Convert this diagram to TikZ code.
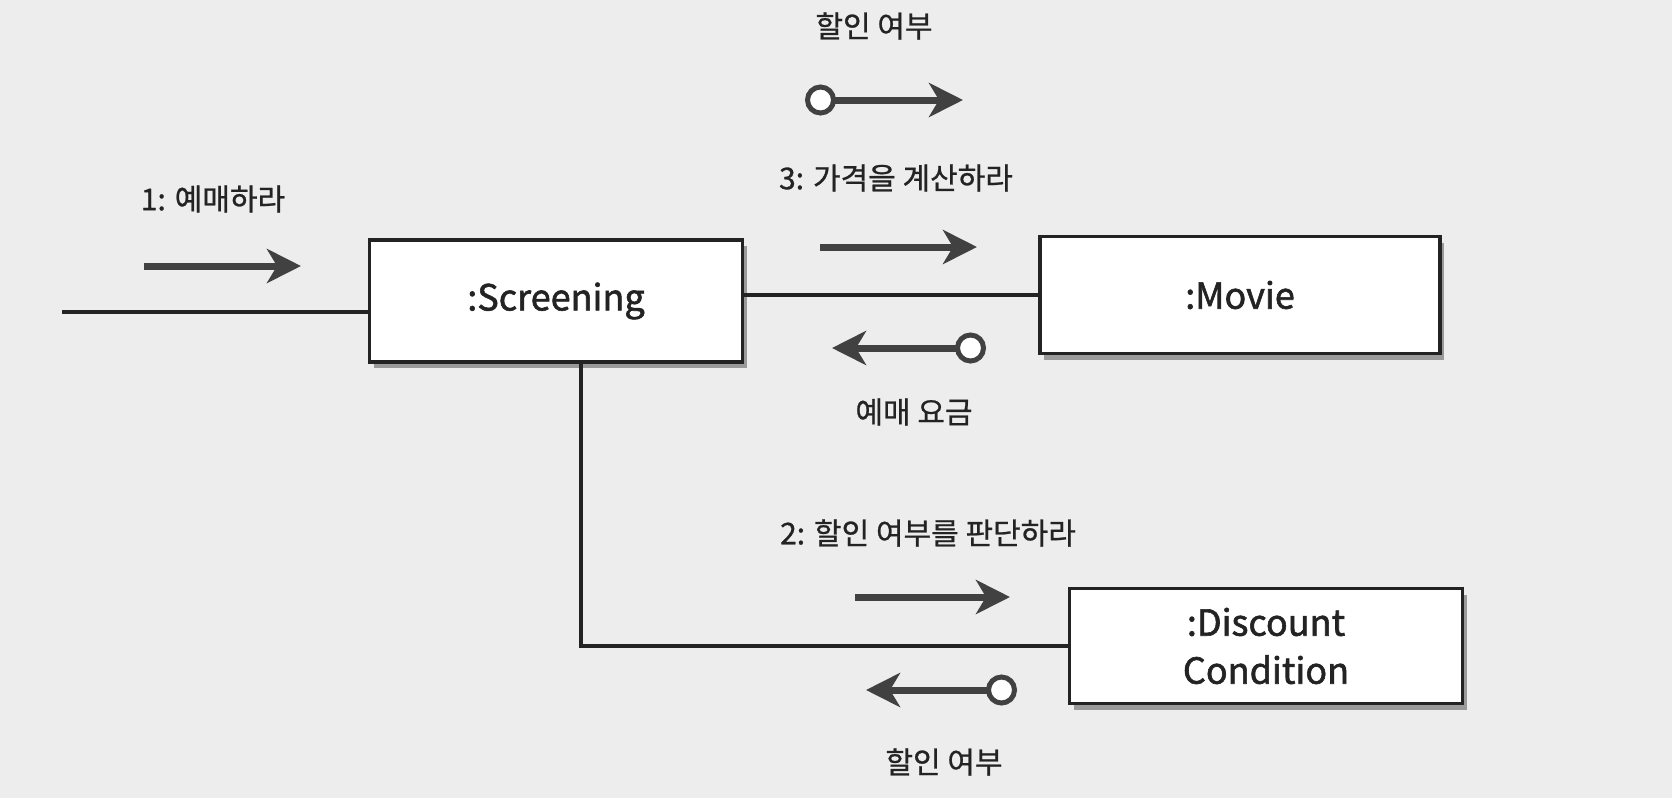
\documentclass[tikz,border=0pt]{standalone}
\usepackage{fontspec}
\setmainfont{Noto Sans CJK KR}
\newfontfamily\boxfont{Noto Sans CJK KR}[FakeBold=1.6]
\newfontfamily\lblfont{Noto Sans CJK KR}[FakeBold=0.8]
\usetikzlibrary{arrows.meta,shadows}
\definecolor{bg}{RGB}{237,237,237}
\definecolor{ink}{RGB}{35,35,35}
\definecolor{arr}{RGB}{65,65,65}
\tikzset{
  objbox/.style={draw=ink, line width=3.6pt, fill=white, text=ink, font=\boxfont\fontsize{36}{48}\selectfont, align=center,
    drop shadow={shadow xshift=4pt, shadow yshift=-6pt, opacity=0.35, fill=black}},
  conn/.style={draw=ink, line width=3.2pt},
  msg/.style={draw=arr, line width=7pt, -{Stealth[length=34pt, width=34pt, inset=10pt]}},
  retmsg/.style={draw=arr, line width=7pt, {Circle[open, length=31pt, width=31pt, line width=5pt, fill=white]}-{Stealth[length=34pt, width=34pt, inset=10pt]}},
  lbl/.style={text=ink, font=\lblfont\fontsize{30}{36}\selectfont, inner sep=0pt}
}
\begin{document}
\begin{tikzpicture}[x=1pt, y=-1pt]
\fill[bg] (0,0) rectangle (1672,798);
\useasboundingbox (0,0) rectangle (1672,798);

% objects
\node[objbox, minimum width=373pt, minimum height=122pt] (scr) at (556,301) {:Screening};
\node[objbox, minimum width=400pt, minimum height=117pt] (mov) at (1240,295) {:Movie};
\node[objbox, minimum width=393pt, minimum height=115pt] (disc) at (1266,646) {:Discount\\Condition};

% links
\coordinate (lft) at (62,312);
\draw[conn] (lft) -- (scr.west |- lft);
\draw[conn] (scr.east |- mov.west) -- (mov.west);
\coordinate (dn) at (581,0);
\draw[conn] (scr.south -| dn) |- (disc.west);

% message 1
\coordinate (a1s) at (144,266);
\coordinate (a1e) at (301,266);
\draw[msg] (a1s) -- (a1e);
\node[lbl] (l1) at (213,199) {1: 예매하라};

% message 3 and return
\node[lbl] (ltop) at (874,26) {할인 여부};
\coordinate (t0) at (805,100);
\coordinate (t1) at (963,100);
\draw[retmsg] (t0) -- (t1);
\node[lbl] (l3) at (896,178) {3: 가격을 계산하라};
\coordinate (m3s) at (820,247);
\coordinate (m3e) at (977,247);
\draw[msg] (m3s) -- (m3e);
\coordinate (r0) at (986,348);
\coordinate (r1) at (832,348);
\draw[retmsg] (r0) -- (r1);
\node[lbl] (lfee) at (914,412) {예매 요금};

% message 2 and return
\node[lbl] (l2) at (928,533) {2: 할인 여부를 판단하라};
\coordinate (m2s) at (855,597);
\coordinate (m2e) at (1010,597);
\draw[msg] (m2s) -- (m2e);
\coordinate (d0) at (1017,690);
\coordinate (d1) at (866,690);
\draw[retmsg] (d0) -- (d1);
\node[lbl] (lbot) at (944,762) {할인 여부};
\end{tikzpicture}
\end{document}
